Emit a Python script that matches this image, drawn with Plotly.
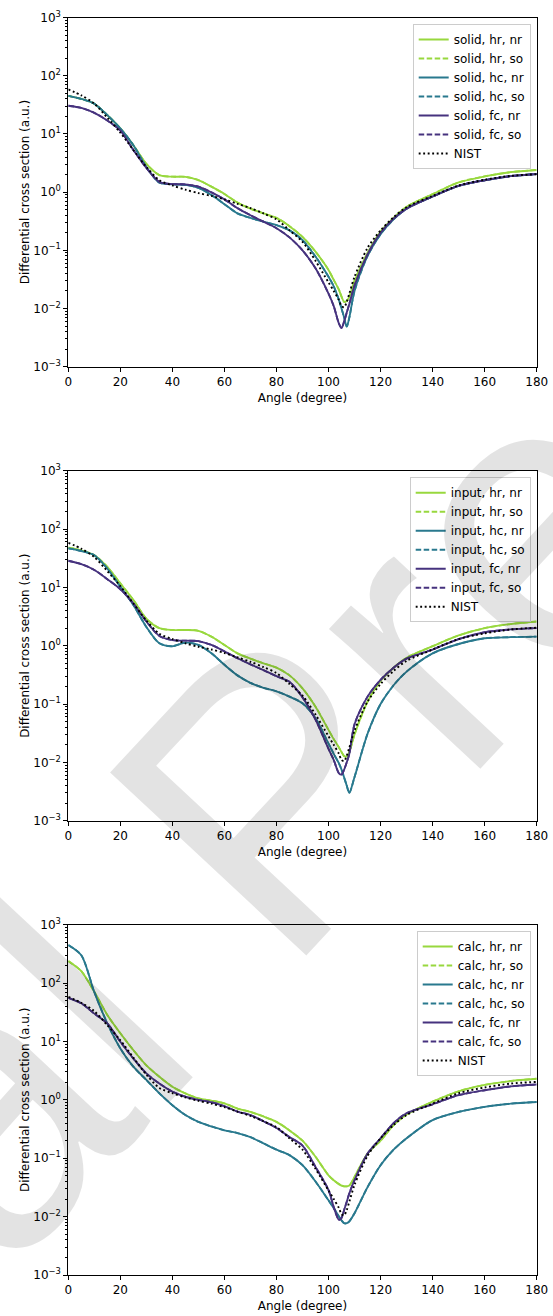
import plotly.graph_objects as go

# ---------------- data ----------------
ANG = [0, 5, 10, 15, 20, 25, 30, 35, 40, 45, 50, 55, 60, 65, 70, 75, 80, 85, 90, 95,
       100, 102, 104, 105, 106, 107, 108, 110, 115, 120, 125, 130, 140, 150, 160, 170, 180]

NIST = [58, 46, 33, 19, 10.5, 5.3, 2.7, 1.6, 1.3, 1.1, 0.96, 0.86, 0.75, 0.63, 0.53, 0.43, 0.34, 0.22, 0.14, 0.066,
        0.028, 0.02, 0.014, 0.011, 0.0105, 0.013, 0.018, 0.035, 0.11, 0.22, 0.37, 0.55, 0.86, 1.3, 1.63, 1.9, 2.03]

# panel 1: solid
SOLID_HR = [45, 40, 33, 21, 12.4, 6.4, 3.05, 1.96, 1.84, 1.83, 1.61, 1.24, 0.93, 0.66, 0.52, 0.43, 0.36, 0.26, 0.17, 0.095,
            0.046, 0.031, 0.021, 0.016, 0.013, 0.0135, 0.016, 0.03, 0.09, 0.21, 0.36, 0.56, 0.92, 1.47, 1.86, 2.2, 2.4]
SOLID_HC = [45, 40, 33, 21, 12.4, 6.4, 2.7, 1.45, 1.36, 1.33, 1.18, 0.89, 0.62, 0.43, 0.36, 0.31, 0.27, 0.22, 0.15, 0.078,
            0.035, 0.024, 0.014, 0.01, 0.007, 0.0049, 0.007, 0.02, 0.08, 0.19, 0.34, 0.52, 0.84, 1.28, 1.6, 1.88, 2.05]
SOLID_FC = [30.5, 28, 23, 17, 11.4, 5.3, 2.6, 1.5, 1.37, 1.36, 1.24, 0.99, 0.75, 0.53, 0.4, 0.31, 0.24, 0.167, 0.10, 0.049,
            0.018, 0.011, 0.0055, 0.0046, 0.006, 0.0085, 0.012, 0.025, 0.085, 0.2, 0.35, 0.52, 0.84, 1.28, 1.6, 1.88, 2.05]

# panel 2: input
INPUT_HR = [48, 43, 35.6, 22.4, 11.7, 6.1, 2.9, 2.0, 1.86, 1.86, 1.8, 1.43, 1.03, 0.74, 0.6, 0.5, 0.42, 0.31, 0.186, 0.09,
            0.036, 0.025, 0.018, 0.015, 0.0128, 0.0126, 0.015, 0.03, 0.11, 0.25, 0.42, 0.62, 0.98, 1.5, 2.0, 2.35, 2.6]
INPUT_HC = [46.7, 42, 35.6, 21, 10.3, 5.0, 2.1, 1.1, 0.98, 1.13, 1.03, 0.74, 0.47, 0.31, 0.23, 0.19, 0.165, 0.134, 0.103, 0.057,
            0.021, 0.014, 0.0096, 0.0075, 0.0055, 0.004, 0.003, 0.0056, 0.031, 0.1, 0.21, 0.36, 0.74, 1.07, 1.34, 1.4, 1.43]
INPUT_FC = [28.6, 25, 19.9, 13.8, 9.3, 5.3, 2.6, 1.47, 1.25, 1.22, 1.2, 1.03, 0.8, 0.61, 0.48, 0.38, 0.3, 0.24, 0.13, 0.054,
            0.017, 0.011, 0.0065, 0.0062, 0.0075, 0.01, 0.014, 0.045, 0.134, 0.26, 0.42, 0.6, 0.86, 1.3, 1.7, 1.9, 2.0]

# panel 3: calc
CALC_HR = [239, 160, 71, 28.4, 13.8, 7.1, 3.9, 2.49, 1.68, 1.29, 1.06, 0.97, 0.87, 0.71, 0.62, 0.52, 0.42, 0.30, 0.2, 0.106,
           0.051, 0.042, 0.036, 0.034, 0.033, 0.033, 0.034, 0.048, 0.12, 0.2, 0.37, 0.56, 0.93, 1.4, 1.8, 2.1, 2.3]
CALC_HC = [449, 300, 70, 20.4, 7.6, 3.7, 2.19, 1.29, 0.81, 0.55, 0.42, 0.35, 0.30, 0.27, 0.23, 0.18, 0.14, 0.113, 0.076, 0.04,
           0.019, 0.014, 0.01, 0.0086, 0.0077, 0.0077, 0.0083, 0.0114, 0.032, 0.076, 0.14, 0.22, 0.45, 0.62, 0.76, 0.86, 0.92]
CALC_FC = [56, 45, 30, 20.4, 9.9, 5.1, 2.84, 1.9, 1.38, 1.13, 1.0, 0.91, 0.78, 0.63, 0.55, 0.43, 0.33, 0.23, 0.165, 0.071,
           0.0285, 0.0146, 0.0088, 0.0095, 0.013, 0.018, 0.025, 0.042, 0.12, 0.22, 0.4, 0.59, 0.84, 1.2, 1.46, 1.7, 1.83]

PANELS = ["solid", "input", "calc"]
SERIES = {
    "solid": [("hr", SOLID_HR), ("hc", SOLID_HC), ("fc", SOLID_FC)],
    "input": [("hr", INPUT_HR), ("hc", INPUT_HC), ("fc", INPUT_FC)],
    "calc": [("hr", CALC_HR), ("hc", CALC_HC), ("fc", CALC_FC)],
}
X_TICKS = [0, 20, 40, 60, 80, 100, 120, 140, 160, 180]
Y_TICKS = [1e-3, 1e-2, 1e-1, 1e0, 1e1, 1e2, 1e3]
Y_TICKTEXT = ["10<sup>−3</sup>", "10<sup>−2</sup>", "10<sup>−1</sup>", "10<sup>0</sup>",
              "10<sup>1</sup>", "10<sup>2</sup>", "10<sup>3</sup>"]

# ---------------- style ----------------
COLORS = {"hr": "#98d83e", "hc": "#29798e", "fc": "#46327e"}
DASHES = {"nr": "solid", "so": "5.5px,2.5px"}
FONT = "DejaVu Sans"
FS = 12
W, H = 553, 1316
X_DOMAIN = [68.3 / W, 536.7 / W]
Y_DOMAINS = [[1 - 366.7 / H, 1 - 17.5 / H], [1 - 820.7 / H, 1 - 470.7 / H], [1 - 1275.0 / H, 1 - 924.7 / H]]
LEGEND_POS = [(530.7, 24.0), (530.7, 477.3), (530.7, 931.0)]

fig = go.Figure()

for i, panel in enumerate(PANELS):
    sfx = "" if i == 0 else str(i + 1)
    xa, ya, lg = "x" + sfx, "y" + sfx, "legend" + sfx
    for key, vals in SERIES[panel]:
        for mode in ("nr", "so"):
            fig.add_trace(go.Scatter(
                x=ANG, y=vals, mode="lines", name=f"{panel}, {key}, {mode}",
                line=dict(color=COLORS[key], width=1.85, dash=DASHES[mode], shape="spline", smoothing=0.8),
                xaxis=xa, yaxis=ya, legend=lg))
    fig.add_trace(go.Scatter(
        x=ANG, y=NIST, mode="lines", name="NIST",
        line=dict(color="black", width=1.9, dash="1.9px,2.6px", shape="spline", smoothing=0.8),
        xaxis=xa, yaxis=ya, legend=lg))

layout = dict(
    width=W, height=H,
    margin=dict(l=0, r=0, t=0, b=0, autoexpand=False),
    paper_bgcolor="white", plot_bgcolor="white",
    font=dict(family=FONT, size=FS, color="black"),
    showlegend=True,
)

for i in range(3):
    sfx = "" if i == 0 else str(i + 1)
    layout["xaxis" + sfx] = dict(
        domain=X_DOMAIN, anchor="y" + sfx, range=[0, 180], automargin=False,
        tickmode="array", tickvals=X_TICKS, ticks="outside", ticklen=4, tickwidth=0.8, tickcolor="black",
        showline=True, mirror=True, linecolor="black", linewidth=1, showgrid=False, zeroline=False,
        title=dict(text="Angle (degree)", standoff=5, font=dict(size=FS)),
        tickfont=dict(size=FS),
    )
    layout["yaxis" + sfx] = dict(
        domain=Y_DOMAINS[i], anchor="x" + sfx, type="log", range=[-3, 3], automargin=False,
        tickmode="array", tickvals=Y_TICKS, ticktext=Y_TICKTEXT,
        ticks="outside", ticklen=4, tickwidth=0.8, tickcolor="black",
        minor=dict(ticks="outside", ticklen=2, tickwidth=0.6, tickcolor="black", dtick="D1", showgrid=False),
        showline=True, mirror=True, linecolor="black", linewidth=1, showgrid=False, zeroline=False,
        title=dict(text="Differential cross section (a.u.)", standoff=1, font=dict(size=FS)),
        tickfont=dict(size=FS),
    )
    lx, ly = LEGEND_POS[i]
    layout["legend" + sfx] = dict(
        x=lx / W, y=1 - ly / H, xanchor="right", yanchor="top",
        bgcolor="rgba(255,255,255,0.8)", bordercolor="#cccccc", borderwidth=1,
        font=dict(size=FS), tracegroupgap=0, itemwidth=30,
    )

layout["annotations"] = [dict(
    text="Journal Pre-proof", xref="paper", yref="paper", x=268 / W, y=1 - 800 / H,
    showarrow=False, textangle=-47,
    font=dict(family="Liberation Sans", size=390, color="rgba(0,0,0,0.11)"),
)]

fig.update_layout(**layout)
fig.write_html("out.html")
